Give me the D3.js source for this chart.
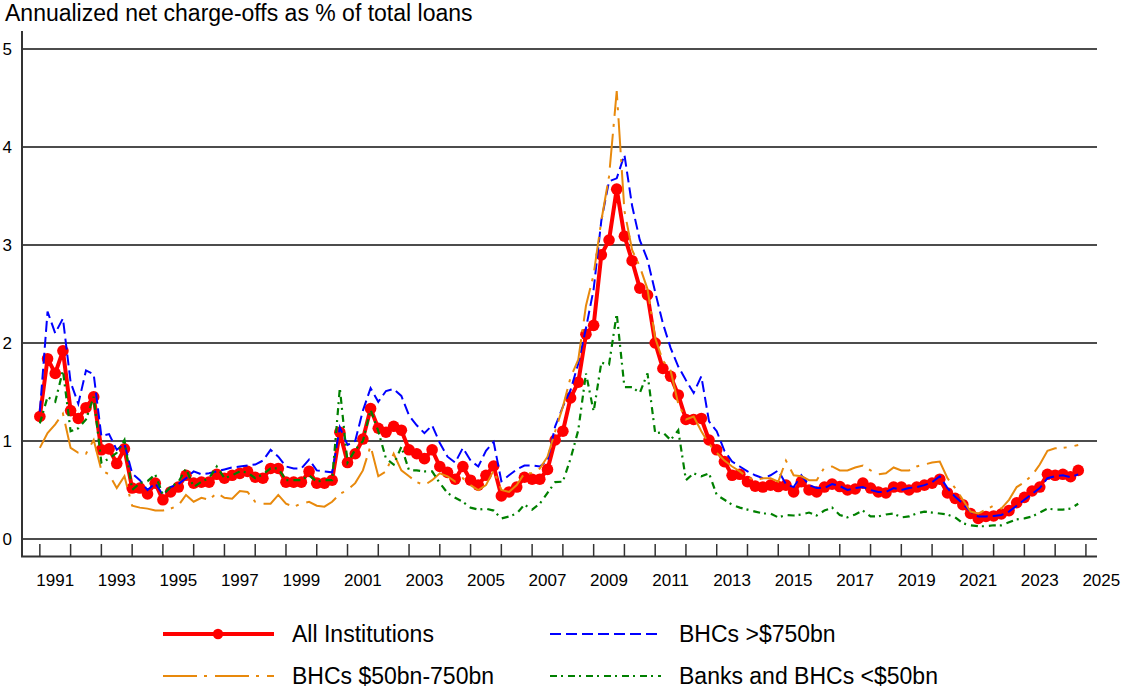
<!DOCTYPE html>
<html><head><meta charset="utf-8">
<script src="https://cdn.jsdelivr.net/npm/d3@7"></script>
<style>
body{margin:0;background:#fff;}
svg{display:block;font-family:"Liberation Sans",Arial,sans-serif;}
</style></head>
<body><svg id="chart" width="1122" height="689"></svg>
<script>
// Quarterly observations, first at 1991.0
const startYear = 1991;
const allInstitutions = [
1.25,1.84,1.69,1.92,1.31,1.23,1.34,1.45,0.91,0.92,
0.77,0.92,0.52,0.52,0.46,0.57,0.40,0.48,0.53,0.65,
0.57,0.58,0.58,0.66,0.62,0.65,0.67,0.69,0.63,0.62,
0.72,0.72,0.58,0.58,0.58,0.69,0.57,0.57,0.60,1.09,
0.78,0.87,1.02,1.33,1.13,1.09,1.15,1.11,0.91,0.87,
0.82,0.91,0.74,0.68,0.61,0.74,0.60,0.55,0.65,0.745,
0.44,0.48,0.53,0.63,0.61,0.61,0.71,1.01,1.10,1.44,
1.60,2.09,2.18,2.90,3.05,3.57,3.09,2.84,2.56,2.49,
2.00,1.74,1.66,1.47,1.22,1.22,1.23,1.01,0.91,0.79,
0.65,0.66,0.585,0.54,0.53,0.55,0.535,0.55,0.48,0.585,
0.50,0.48,0.53,0.56,0.535,0.50,0.51,0.57,0.52,0.48,
0.47,0.53,0.53,0.50,0.53,0.55,0.57,0.61,0.47,0.415,
0.35,0.26,0.21,0.23,0.235,0.255,0.29,0.37,0.425,0.49,
0.53,0.66,0.65,0.66,0.635,0.70];
const bhcsOver750 = [
1.30,2.32,2.10,2.25,1.60,1.38,1.72,1.68,1.05,1.07,
0.91,0.97,0.67,0.60,0.50,0.57,0.45,0.53,0.56,0.62,
0.69,0.66,0.67,0.69,0.71,0.73,0.74,0.75,0.76,0.80,
0.91,0.84,0.74,0.72,0.72,0.81,0.70,0.69,0.68,1.14,
0.96,1.00,1.31,1.54,1.40,1.51,1.53,1.46,1.26,1.16,
1.08,1.16,0.98,0.84,0.78,0.93,0.80,0.74,0.90,0.99,
0.59,0.65,0.71,0.75,0.75,0.74,0.80,1.15,1.35,1.52,
1.79,2.15,2.55,3.25,3.65,3.68,3.92,3.40,3.05,2.85,
2.52,2.20,1.95,1.76,1.62,1.49,1.66,1.20,1.10,0.90,
0.79,0.74,0.69,0.65,0.62,0.65,0.70,0.56,0.53,0.65,
0.55,0.52,0.52,0.56,0.54,0.50,0.52,0.53,0.50,0.48,
0.48,0.52,0.50,0.52,0.53,0.55,0.58,0.64,0.52,0.43,
0.36,0.28,0.23,0.23,0.235,0.245,0.28,0.34,0.40,0.46,
0.52,0.62,0.64,0.65,0.63,0.66];
const bhcs50to750 = [
0.93,1.08,1.17,1.28,0.93,0.88,0.87,1.01,0.70,0.66,
0.52,0.64,0.34,0.32,0.31,0.29,0.29,0.31,0.34,0.45,
0.38,0.42,0.40,0.47,0.42,0.41,0.49,0.48,0.38,0.36,
0.36,0.45,0.36,0.33,0.36,0.38,0.34,0.33,0.38,0.46,
0.50,0.57,0.70,0.95,0.64,0.69,0.87,0.70,0.64,0.58,
0.55,0.60,0.67,0.64,0.585,0.62,0.55,0.50,0.55,0.70,
0.50,0.48,0.55,0.67,0.67,0.72,0.84,1.10,1.35,1.65,
1.83,2.38,2.70,3.25,3.70,4.57,3.35,2.95,2.78,2.55,
2.05,1.82,1.72,1.38,1.22,1.25,1.10,0.97,0.88,0.80,
0.74,0.69,0.63,0.60,0.62,0.62,0.585,0.80,0.65,0.64,
0.60,0.60,0.73,0.74,0.70,0.70,0.73,0.75,0.70,0.66,
0.67,0.73,0.70,0.70,0.74,0.76,0.78,0.79,0.62,0.52,
0.40,0.28,0.26,0.30,0.34,0.31,0.40,0.53,0.58,0.65,
0.76,0.90,0.925,0.93,0.94,0.96];
const banksUnder50 = [
1.18,1.45,1.40,1.72,1.10,1.13,1.22,1.45,0.78,0.82,
0.88,1.01,0.50,0.57,0.59,0.66,0.45,0.53,0.58,0.72,
0.53,0.585,0.62,0.74,0.62,0.65,0.69,0.68,0.62,0.66,
0.72,0.72,0.60,0.60,0.60,0.65,0.585,0.60,0.60,1.54,
0.78,0.91,1.00,1.32,1.10,0.82,0.76,0.94,0.70,0.70,
0.69,0.69,0.57,0.47,0.42,0.38,0.32,0.30,0.31,0.29,
0.21,0.23,0.26,0.35,0.30,0.36,0.47,0.58,0.585,0.82,
1.11,1.69,1.30,1.80,1.78,2.30,1.55,1.55,1.49,1.69,
1.08,1.09,1.01,1.11,0.60,0.67,0.64,0.67,0.45,0.40,
0.35,0.32,0.30,0.28,0.26,0.26,0.22,0.245,0.24,0.25,
0.27,0.24,0.29,0.32,0.245,0.22,0.25,0.29,0.23,0.23,
0.25,0.26,0.22,0.23,0.26,0.28,0.27,0.26,0.25,0.22,
0.16,0.14,0.13,0.13,0.14,0.14,0.17,0.20,0.21,0.23,
0.27,0.31,0.30,0.30,0.31,0.36];
const yTicks = [0,1,2,3,4,5];
const xTickYears = d3.range(1991, 2026);
const xLabelYears = [1991,1993,1995,1997,1999,2001,2003,2005,2007,2009,2011,2013,2015,2017,2019,2021,2023,2025];
const titleText = "Annualized net charge-offs as % of total loans";
const seriesNames = ["All Institutions","BHCs >$750bn","BHCs $50bn-750bn","Banks and BHCs <$50bn"];

const quarters = allInstitutions.map((_, i) => startYear + i / 4);

const svg = d3.select("#chart");
const x = d3.scaleLinear().domain([1990.42, 2025.36]).range([22, 1097]);
const y = d3.scaleLinear().domain([0, 5]).range([539, 49]);
const baseY = 556.5;

// title
svg.append("text").attr("x", 5).attr("y", 21).attr("font-size", 23).attr("fill", "#000").text(titleText);

// gridlines
svg.append("g").selectAll("line").data(yTicks).join("line")
  .attr("x1", 22).attr("x2", 1097).attr("y1", d => y(d)).attr("y2", d => y(d))
  .attr("stroke", "#111").attr("stroke-width", 1.3);

// y labels
svg.append("g").selectAll("text").data(yTicks).join("text")
  .attr("x", 12).attr("y", d => y(d)).attr("dy", "0.36em").attr("text-anchor", "end")
  .attr("font-size", 17).text(d => d);

// y axis line
svg.append("line").attr("x1", 22).attr("x2", 22).attr("y1", 31).attr("y2", baseY)
  .attr("stroke", "#333").attr("stroke-width", 2);
// x baseline
svg.append("line").attr("x1", 21).attr("x2", 1097).attr("y1", baseY).attr("y2", baseY)
  .attr("stroke", "#333").attr("stroke-width", 2);
// x ticks
svg.append("g").selectAll("line").data(xTickYears).join("line")
  .attr("x1", d => x(d)).attr("x2", d => x(d)).attr("y1", baseY - 12.5).attr("y2", baseY)
  .attr("stroke", "#333").attr("stroke-width", 1.5);
// x labels at mid-year
svg.append("g").selectAll("text").data(xLabelYears).join("text")
  .attr("x", d => x(d + 0.5)).attr("y", 586).attr("text-anchor", "middle")
  .attr("font-size", 17).text(d => d);

const line = d3.line().x((d, i) => x(quarters[i])).y(d => y(d));

const styles = [
  {data: allInstitutions, color: "#ff0000", width: 4, dash: null},
  {data: bhcsOver750, color: "#0000ff", width: 2, dash: "11,5"},
  {data: bhcs50to750, color: "#e8890c", width: 2, dash: "34,7,3,8"},
  {data: banksUnder50, color: "#008000", width: 2.2, dash: "7,4,2,5"}
];

const plot = svg.append("g");
// red line + dots
plot.append("path").datum(allInstitutions).attr("d", line).attr("fill", "none")
  .attr("stroke", styles[0].color).attr("stroke-width", styles[0].width).attr("stroke-linejoin", "round");
plot.append("g").selectAll("circle").data(allInstitutions).join("circle")
  .attr("cx", (d, i) => x(quarters[i])).attr("cy", d => y(d)).attr("r", 5.8).attr("fill", "#ff0000");
styles.slice(1).forEach(s => {
  plot.append("path").datum(s.data).attr("d", line).attr("fill", "none")
    .attr("stroke", s.color).attr("stroke-width", s.width).attr("stroke-dasharray", s.dash);
});

// legend
const legendItems = [
  {name: seriesNames[0], s: styles[0], lx: 163, ly: 634, dot: true},
  {name: seriesNames[1], s: styles[1], lx: 550, ly: 634},
  {name: seriesNames[2], s: styles[2], lx: 163, ly: 676},
  {name: seriesNames[3], s: styles[3], lx: 550, ly: 676}
];
const lg = svg.append("g");
legendItems.forEach(it => {
  lg.append("line").attr("x1", it.lx).attr("x2", it.lx + 111).attr("y1", it.ly).attr("y2", it.ly)
    .attr("stroke", it.s.color).attr("stroke-width", it.s.width).attr("stroke-dasharray", it.s.dash);
  if (it.dot) lg.append("circle").attr("cx", it.lx + 55).attr("cy", it.ly).attr("r", 5.2).attr("fill", it.s.color);
  lg.append("text").attr("x", it.lx + 129).attr("y", it.ly).attr("dy", "0.36em")
    .attr("font-size", 23).text(it.name);
});
</script></body></html>
